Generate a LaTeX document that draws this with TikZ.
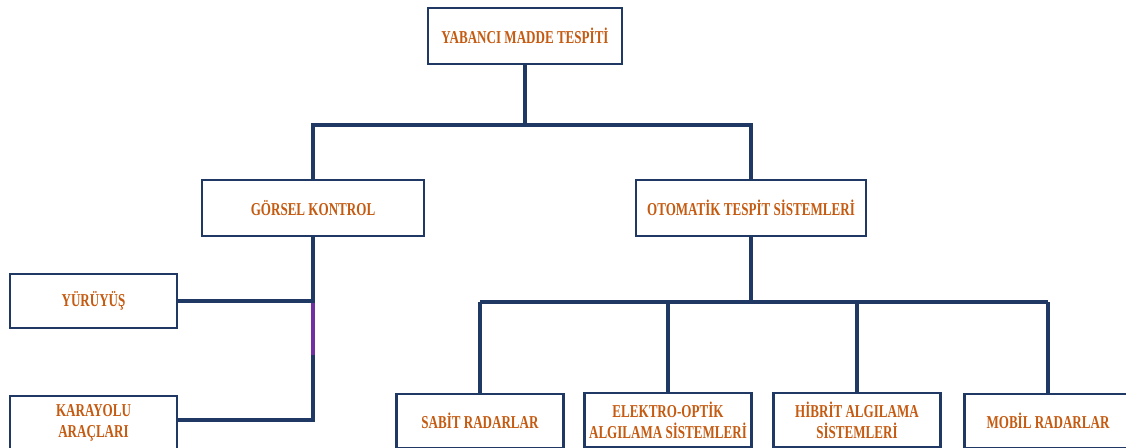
\documentclass[tikz,border=0pt]{standalone}
\usepackage{fontspec}
\newfontfamily\chartfont[FakeStretch=0.72]{Liberation Serif}
\usetikzlibrary{calc}
\definecolor{navy}{HTML}{1F3864}
\definecolor{rust}{HTML}{C55A11}
\definecolor{violet}{HTML}{7030A0}
\tikzset{
    box/.style={draw=navy, line width=1.7pt, fill=white, inner sep=2pt,
                minimum height=14mm, align=center, text=rust,
                font=\chartfont\bfseries\fontsize{12.9}{15}\selectfont},
    leaf/.style={box, minimum width=41.75mm, minimum height=13.5mm},
    link/.style={draw=navy, line width=2.4pt},
}

\begin{document}
\begin{tikzpicture}[x=0.25mm, y=-0.25mm]

    \useasboundingbox (0,0) rectangle (1126,448);
    \clip (0,0) rectangle (1126,448);

    \node[box, minimum width=48.5mm] (root) at (525,36) {YABANCI MADDE TESPİTİ};
    \node[box, minimum width=55.5mm] (gorsel) at (313,208) {GÖRSEL KONTROL};
    \node[box, minimum width=57.5mm] (otomatik) at (751,208) {OTOMATİK TESPİT SİSTEMLERİ};

    \node[leaf] (yuruyus) at (93.5,301) {YÜRÜYÜŞ};
    \node[leaf] (karayolu) at (93.5,423) {KARAYOLU\\ARAÇLARI};

    \node[leaf] (sabit) at (480,421) {SABİT RADARLAR};
    \node[leaf] (elektro) at (668,420) {ELEKTRO-OPTİK\\ALGILAMA SİSTEMLERİ};
    \node[leaf] (hibrit) at (857,420) {HİBRİT ALGILAMA\\SİSTEMLERİ};
    \node[leaf] (mobil) at (1048,421) {MOBİL RADARLAR};

    % top level
    \coordinate (rootfork) at (525,125);
    \draw[link] (root) -- (rootfork);
    \draw[link] (rootfork) -| (gorsel);
    \draw[link] (rootfork) -| (otomatik);

    % left branch
    \coordinate (gorselend) at (313,420);
    \coordinate (gorselmark) at (313,355);
    \draw[link] (gorsel) -- (gorselend) -- (karayolu.east |- gorselend);
    \draw[link] (yuruyus.east) -- (yuruyus.east -| gorsel.south);
    \draw[draw=violet, line width=2.4pt] ($(yuruyus.east -| gorsel.south)+(0,2)$) -- (gorselmark);

    % right branch
    \coordinate (otofork) at (751,302);
    \draw[link] (otomatik) -- (otofork);
    \draw[link] (sabit.north |- otofork) -- (mobil.north |- otofork);
    \foreach \leafname in {sabit,elektro,hibrit,mobil}
        \draw[link] (\leafname.north |- otofork) -- (\leafname.north);

\end{tikzpicture}
\end{document}
